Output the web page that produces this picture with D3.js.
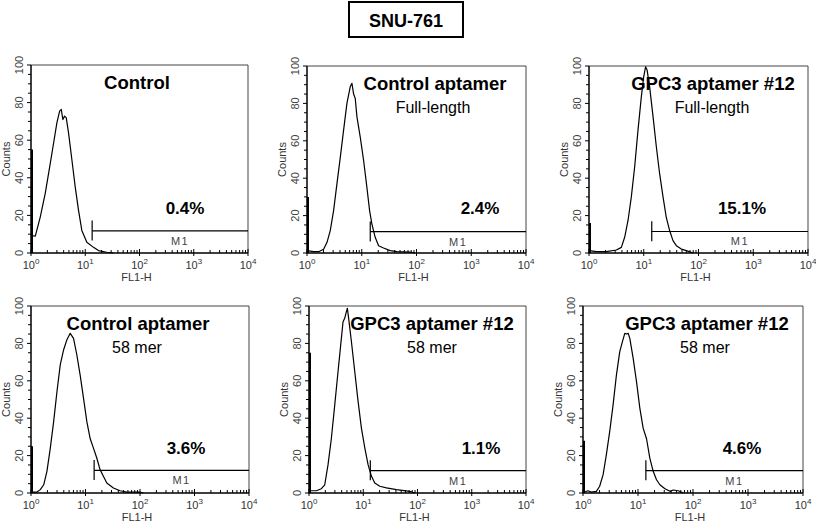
<!DOCTYPE html>
<html><head><meta charset="utf-8">
<script src="https://cdn.jsdelivr.net/npm/d3@7"></script>
<style>body{margin:0;background:#fff}svg{display:block}text{font-family:Arial,"Liberation Sans",sans-serif}</style>
</head><body><svg id="c" width="816" height="524"></svg>
<script>
// ---------------- data ----------------
const chartTitle = "SNU-761";
const sampleNames = ["Control","Control aptamer","GPC3 aptamer #12","Control aptamer","GPC3 aptamer #12","GPC3 aptamer #12"];
const sampleSubtitles = ["","Full-length","Full-length","58 mer","58 mer","58 mer"];
const percentLabels = ["0.4%","2.4%","15.1%","3.6%","1.1%","4.6%"];
const gateLabel = "M1";
const gateStart = [13.4,14.3,14.0,14.4,13.5,13.9];
const gateLevel = [11.8,11.4,11.5,12.1,12,12];
const firstChannelCounts = [55,30,16,25,75,28];
const yTicks = [0,20,40,60,80,100];
const xTickValues = [1,10,100,1000,10000];
const xTickExponents = ["0","1","2","3","4"];
const xAxisLabel = "FL1-H";
const yAxisLabel = "Counts";

const hist1 = [[1,9.3],[1.2,9],[1.48,19.1],[1.83,31.7],[2.27,47.8],[2.61,58.5],[3.0,69.2],[3.37,75.5],[3.61,76.4],[3.87,71],[4.16,72.8],[4.46,72],[4.92,63.9],[5.67,49.6],[6.53,35.2],[7.52,22.7],[8.65,12],[10.7,5.7],[14.2,3],[17.5,1.3],[24.9,0.4],[33,0]];
const hist2 = [[1,1.3],[1.32,0.7],[1.63,0.7],[2.01,2],[2.32,5.7],[2.66,12],[3.06,22.7],[3.52,37],[4.05,51],[4.66,65.7],[5.36,80],[6.17,89],[6.62,90.7],[7.1,85],[7.61,82.6],[8.17,72.8],[9.39,62],[10.8,49.6],[12.4,35.2],[13.9,22.7],[15.3,15.6],[17.6,8.4],[20.3,3.9],[25,2.7],[33.1,1.3],[43.8,0.7],[76.6,0.5],[94.6,0]];
const hist3 = [[1.03,1.3],[1.36,0.7],[2.07,0.7],[3.16,1.6],[3.9,3],[4.48,8.4],[5.16,17.4],[5.93,30],[6.82,46],[7.85,65.7],[9.03,83.5],[9.96,94],[10.8,99.6],[11.5,97.9],[12.8,89],[14.8,72.8],[17,56.7],[19.5,42.4],[22.5,30],[25.8,19],[29.7,12],[34.2,6.6],[39.4,3.9],[48.6,2.1],[60,1.3],[79.4,0]];
const hist4 = [[1.04,0.5],[1.29,0.5],[1.48,1.8],[1.71,4.4],[1.96,11.6],[2.26,24],[2.6,38],[2.99,54],[3.44,68.5],[3.96,76.5],[4.56,82],[5.24,85.4],[6.03,82.7],[6.94,73.8],[7.98,63],[9.19,50.7],[10.6,38],[12.2,29],[14,24],[16.1,18.7],[18.5,12.5],[21.3,8.9],[24.6,5.3],[32.5,2.7],[43.1,1.2],[57,0.5],[100,0.5],[115,0]];
const hist5 = [[1.03,1.2],[1.37,1.2],[1.69,2.3],[1.95,4.4],[2.24,15],[2.58,29],[2.98,47],[3.43,65],[3.95,82.7],[4.24,91.6],[4.55,93.4],[4.89,97],[5.1,98.8],[5.4,93],[6.05,81],[6.97,65],[8.03,49],[9.25,34.7],[10.7,24],[12.3,15],[14.2,8.9],[16.3,5.3],[20.2,3.6],[26.8,2.7],[41,1.8],[72,0.9],[89.3,0]];
const hist6 = [[1.07,0.5],[1.23,1.2],[1.42,0.5],[1.75,0.9],[2.01,3.6],[2.32,9.8],[2.66,20.5],[3.06,33],[3.52,47],[4.05,63],[4.66,75.6],[5.21,81],[5.75,85.4],[6.17,85],[6.62,85.4],[7.1,82.7],[8.17,72],[9.39,59.6],[10.8,45.4],[12.4,34.7],[14.3,29],[16.4,18.7],[18.9,11.6],[21.7,7.1],[25,4.4],[30.9,2.3],[38.1,0.9],[43.8,1.6],[54,1.2],[66.6,0]];
const histograms = [hist1,hist2,hist3,hist4,hist5,hist6];

// ---------------- layout ----------------
const panels = [
  {l:31, t:65, r:248, b:253, tx:106, sx:106, px:154},
  {l:307,t:66, r:526, b:253, tx:128, sx:126, px:173},
  {l:589,t:66, r:808, b:253, tx:124, sx:123, px:153},
  {l:31, t:306,r:249, b:493, tx:107, sx:106, px:155},
  {l:309,t:306,r:526, b:493, tx:123, sx:123, px:172},
  {l:583,t:306,r:803, b:493, tx:124, sx:122, px:159}
];

const svg = d3.select("#c");
svg.append("rect").attr("width",816).attr("height",524).attr("fill","#fff");

// title box
const tg = svg.append("g");
tg.append("rect").attr("x",349).attr("y",2).attr("width",114).attr("height",35)
  .attr("fill","none").attr("stroke","#000").attr("stroke-width",2);
tg.append("text").attr("x",406).attr("y",26.5).attr("text-anchor","middle")
  .attr("font-size",18).attr("font-weight","bold").text(chartTitle);

panels.forEach((p,i)=>{
  const g = svg.append("g");
  const x = d3.scaleLog().domain([1,10000]).range([p.l,p.r]);
  const y = d3.scaleLinear().domain([0,100]).range([p.b,p.t]);

  // frame (top & right)
  g.append("path").attr("d",`M${p.l},${p.t}H${p.r}V${p.b}`)
    .attr("fill","none").attr("stroke","#444").attr("stroke-width",1);

  // y ticks
  const yMinor = d3.range(0,101,5);
  g.selectAll(".ym").data(yMinor).join("line")
    .attr("x1",d=>p.l-(d%20===0?4:3)).attr("x2",p.l)
    .attr("y1",d=>y(d)).attr("y2",d=>y(d))
    .attr("stroke","#000").attr("stroke-width",1);
  g.selectAll(".yl").data(yTicks).join("text")
    .attr("transform",d=>`translate(${p.l-8},${y(d)}) rotate(-90)`)
    .attr("text-anchor","middle").attr("font-size",11).attr("fill","#444").text(d=>d);
  g.append("text").attr("transform",`translate(${p.l-21},${(p.t+p.b)/2}) rotate(-90)`)
    .attr("text-anchor","middle").attr("font-size",11).attr("fill","#333").text(yAxisLabel);

  // x ticks
  const minor = [];
  for(let e=0;e<4;e++) for(let k=2;k<10;k++) minor.push(k*Math.pow(10,e));
  g.selectAll(".xm").data(minor).join("line")
    .attr("x1",d=>x(d)).attr("x2",d=>x(d)).attr("y1",p.b).attr("y2",p.b-3)
    .attr("stroke","#000").attr("stroke-width",1);
  g.selectAll(".xM").data(xTickValues).join("line")
    .attr("x1",d=>x(d)).attr("x2",d=>x(d)).attr("y1",p.b+3).attr("y2",p.b-4)
    .attr("stroke","#000").attr("stroke-width",1);
  const xl = g.selectAll(".xl").data(xTickValues).join("text")
    .attr("x",d=>x(d)).attr("y",p.b+16).attr("text-anchor","middle")
    .attr("font-size",11).attr("fill","#333");
  xl.append("tspan").text("10");
  xl.append("tspan").attr("dy",-5).attr("font-size",8).text((d,j)=>xTickExponents[j]);
  g.append("text").attr("x",(p.l+p.r)/2-3).attr("y",p.b+28).attr("text-anchor","middle")
    .attr("font-size",11).attr("fill","#333").text(xAxisLabel);

  // axes lines
  g.append("path").attr("d",`M${p.l},${p.t}V${p.b}H${p.r}`)
    .attr("fill","none").attr("stroke","#000").attr("stroke-width",1.5);

  // first channel spike
  g.append("line").attr("x1",x(1)+1).attr("x2",x(1)+1).attr("y1",y(0)).attr("y2",y(firstChannelCounts[i]))
    .attr("stroke","#000").attr("stroke-width",2);

  // histogram
  const line = d3.line().x(d=>x(d[0])).y(d=>y(d[1]));
  g.append("path").attr("d",line(histograms[i])).attr("fill","none")
    .attr("stroke","#000").attr("stroke-width",1.2).attr("stroke-linejoin","round");

  // gate marker
  const gx = x(gateStart[i]), gy = y(gateLevel[i]);
  g.append("line").attr("x1",gx).attr("x2",p.r).attr("y1",gy).attr("y2",gy)
    .attr("stroke","#000").attr("stroke-width",1.2);
  g.append("line").attr("x1",gx).attr("x2",gx).attr("y1",y(gateLevel[i]+5.5)).attr("y2",y(gateLevel[i]-5.2))
    .attr("stroke","#000").attr("stroke-width",1.2);
  g.append("text").attr("x",(gx+p.r)/2+10).attr("y",gy+14).attr("text-anchor","middle")
    .attr("font-size",11).attr("fill","#444").attr("letter-spacing",1.5).text(gateLabel);

  // labels
  g.append("text").attr("x",p.l+p.tx).attr("y",p.t+24).attr("text-anchor","middle")
    .attr("font-size",18.5).attr("font-weight","bold").text(sampleNames[i]);
  if(sampleSubtitles[i]) g.append("text").attr("x",p.l+p.sx).attr("y",p.t+47).attr("text-anchor","middle")
    .attr("font-size",16).text(sampleSubtitles[i]);
  g.append("text").attr("x",p.l+p.px).attr("y",p.b-39).attr("text-anchor","middle")
    .attr("font-size",17).attr("font-weight","bold").text(percentLabels[i]);
});
</script></body></html>
